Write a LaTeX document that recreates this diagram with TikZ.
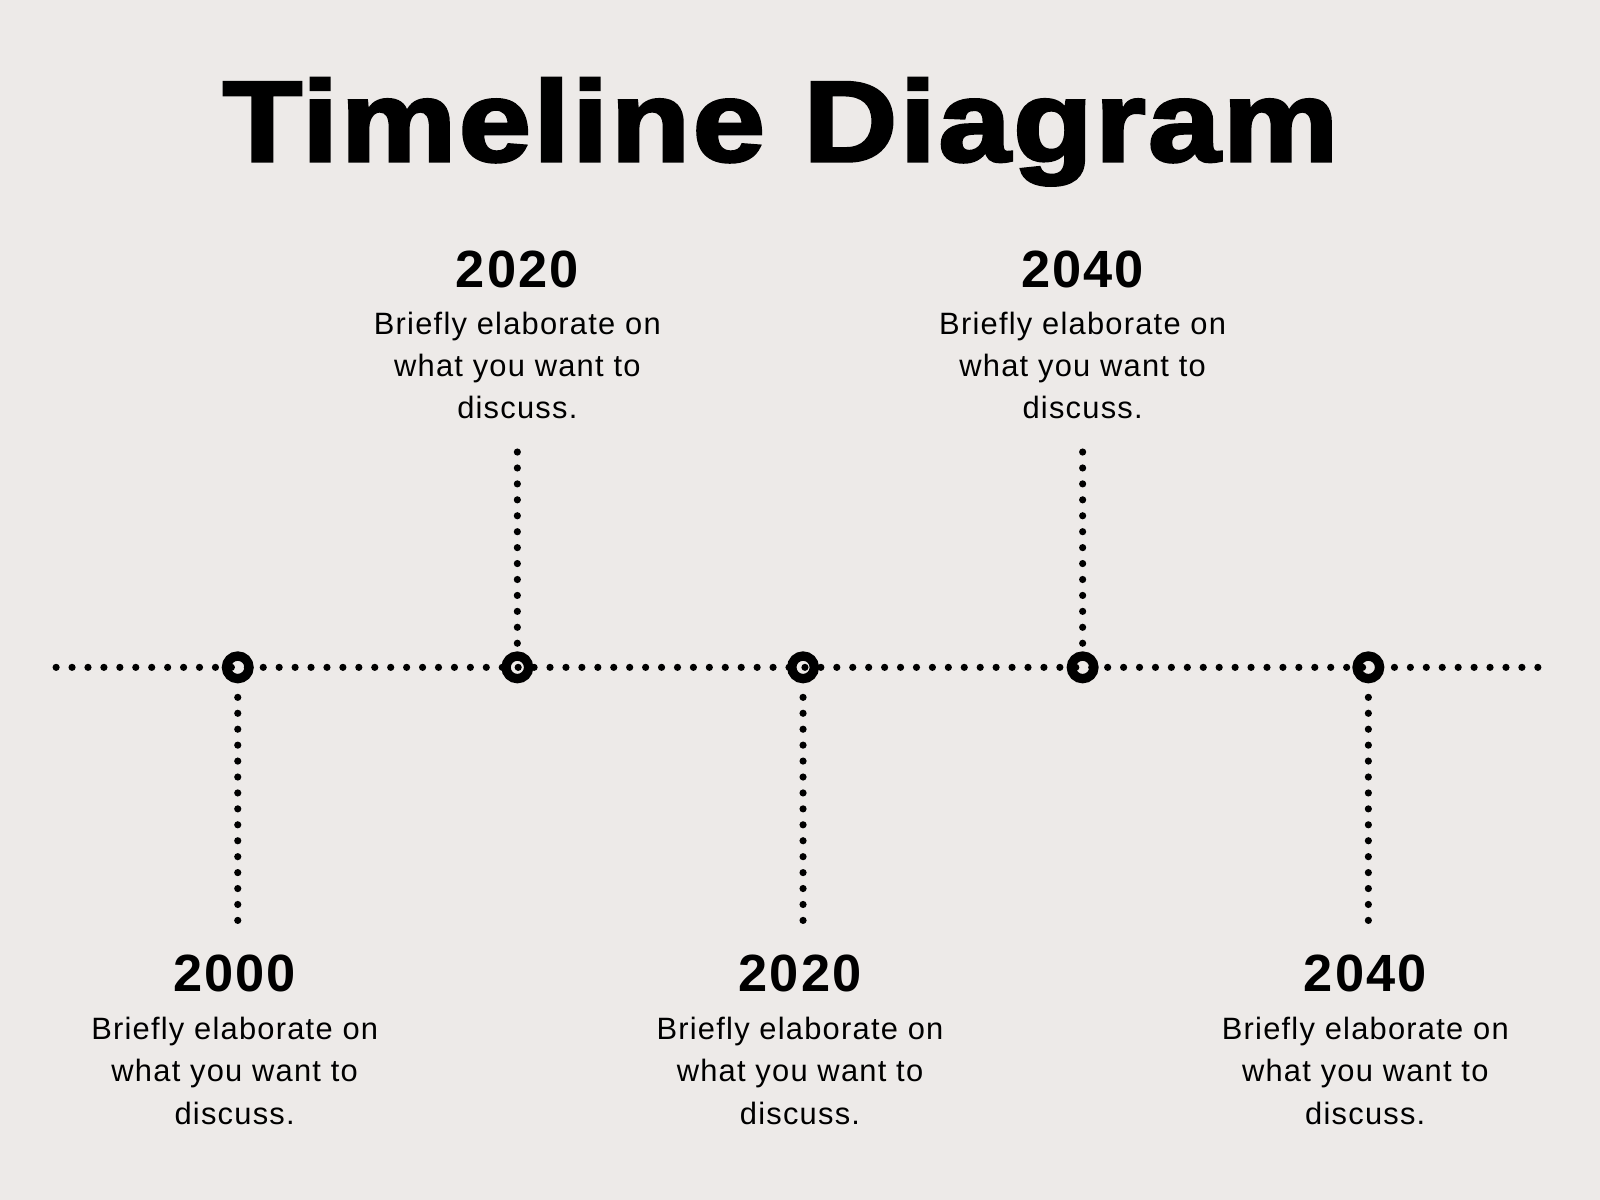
\documentclass[tikz,border=0pt]{standalone}
\usepackage{fontspec}
\setmainfont{Liberation Sans}[LetterSpace=4]
\newfontfamily\titlefont{Liberation Sans Bold}[FakeBold=2.5,LetterSpace=2]
\newfontfamily\yearfont{Liberation Sans Bold}[LetterSpace=4]
\definecolor{paper}{RGB}{237,234,232}

\begin{document}
\begin{tikzpicture}[x=0.01cm,y=-0.01cm,
	dotline/.style={line width=2pt, line cap=round, dash pattern=on 0pt off 4.44pt},
	ring/.style={circle, draw, line width=2.6pt, minimum size=6.3pt, inner sep=0pt},
	year/.style={font=\yearfont\fontsize{14.6}{16}\selectfont, anchor=base, inner sep=0pt},
	blurb/.style={font=\fontsize{8.6}{11.8}\selectfont, align=center, anchor=north, inner sep=0pt}]
	%\draw[help lines] (0,0) grid[step=100] (1568,1176);
	\fill[paper] (0,0) rectangle (1568,1176);
	\useasboundingbox (0,0) rectangle (1568,1176);
	\node[font=\titlefont\fontsize{32}{38}\selectfont, anchor=base, xscale=1.13] (title) at (765,158) {Timeline Diagram};
	% main line
	\coordinate (lft) at (55,654);
	\coordinate (rgt) at (1512,654);
	\draw[dotline] (lft) -- (rgt);
	% marks on the line
	\node[ring] (m1) at (233,654) {};
	\node[ring] (m2) at (507,654) {};
	\node[ring] (m3) at (787,654) {};
	\node[ring] (m4) at (1061,654) {};
	\node[ring] (m5) at (1341,654) {};
	% stems
	\coordinate (b1) at (233,902);
	\coordinate (t2) at (507,443);
	\coordinate (b3) at (787,902);
	\coordinate (t4) at (1061,443);
	\coordinate (b5) at (1341,902);
	\draw[dotline] (b1) -- (m1);
	\draw[dotline] (t2) -- (m2);
	\draw[dotline] (b3) -- (m3);
	\draw[dotline] (t4) -- (m4);
	\draw[dotline] (b5) -- (m5);
	% texts above
	\node[year] (y2) at (507,282) {2020};
	\node[blurb] (d2) at (507,305) {Briefly elaborate on\\what you want to\\discuss.};
	\node[year] (y4) at (1061,282) {2040};
	\node[blurb] (d4) at (1061,305) {Briefly elaborate on\\what you want to\\discuss.};
	% texts below
	\node[year] (y1) at (230,972) {2000};
	\node[blurb] (d1) at (230,996) {Briefly elaborate on\\what you want to\\discuss.};
	\node[year] (y3) at (784,972) {2020};
	\node[blurb] (d3) at (784,996) {Briefly elaborate on\\what you want to\\discuss.};
	\node[year] (y5) at (1338,972) {2040};
	\node[blurb] (d5) at (1338,996) {Briefly elaborate on\\what you want to\\discuss.};
\end{tikzpicture}
\end{document}
